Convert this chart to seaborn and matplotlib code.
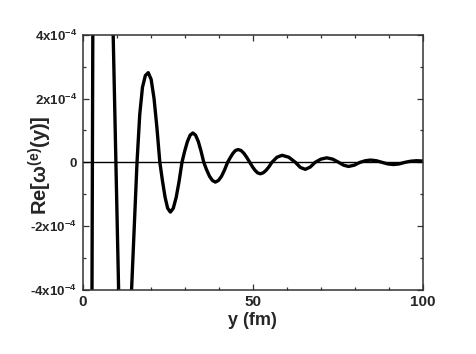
import numpy as np
import pandas as pd
import seaborn as sns
import matplotlib.pyplot as plt
from matplotlib.ticker import MultipleLocator

y_fm = [2.0, 2.6, 2.9, 3.2, 6.0, 8.2, 9.8, 11.4, 12.5, 13.6, 14.4, 15.2,
        16.0, 16.8, 17.6, 18.45, 19.3, 20.15, 21.0, 21.85, 22.7, 23.5, 24.25,
        25.0, 25.8, 26.65, 27.5, 28.35, 29.2, 30.0, 30.8, 31.6, 32.4, 33.2,
        34.0, 34.8, 35.6, 36.45, 37.3, 38.15, 39.0, 39.9, 40.8, 41.7, 42.6,
        43.4, 44.15, 44.9, 45.7, 46.55, 47.4, 48.25, 49.1, 49.9, 50.65, 51.4,
        52.2, 53.05, 53.9, 54.75, 55.6, 57.1, 58.6, 60.55, 62.5, 63.95, 65.4,
        66.85, 68.3, 70.0, 71.7, 73.45, 75.2, 76.65, 78.1, 79.8, 81.5, 83.05,
        84.6, 86.25, 87.9, 89.6, 91.3, 93.0, 94.7, 96.4, 98.1, 100.0]
re_omega = [-30.0, -10.0, 0.0, 10.0, 25.0, 8.0, 0.0, -8.0, -11.0, -6.2, -4.0, -2.0,
            0.0, 1.5, 2.35, 2.72, 2.81, 2.6, 2.0, 1.08, 0.0, -0.6, -1.1,
            -1.44, -1.56, -1.44, -1.1, -0.6, 0.0, 0.35, 0.65, 0.85, 0.92, 0.85,
            0.65, 0.35, 0.0, -0.24, -0.44, -0.57, -0.62, -0.57, -0.44, -0.24, 0.0,
            0.15, 0.28, 0.37, 0.40, 0.37, 0.28, 0.15, 0.0, -0.14, -0.25, -0.33,
            -0.36, -0.33, -0.25, -0.14, 0.0, 0.16, 0.22, 0.16, 0.0, -0.16, -0.22,
            -0.15, 0.0, 0.10, 0.14, 0.10, 0.0, -0.09, -0.13, -0.09, 0.0, 0.05,
            0.07, 0.05, 0.0, -0.05, -0.07, -0.05, 0.0, 0.035, 0.05, 0.04]
skala = 1e-4

x_ticks = [0, 50, 100]
y_ticks = [-4e-4, -2e-4, 0, 2e-4, 4e-4]
y_ticklabels = [r"-4x10$^{-4}$", r"-2x10$^{-4}$", "0", r"2x10$^{-4}$", r"4x10$^{-4}$"]

if __name__ == "__main__":
    sns.set_style("ticks")
    plt.rcParams["font.family"] = ["Liberation Sans", "DejaVu Sans"]
    plt.rcParams["font.weight"] = "bold"
    plt.rcParams["mathtext.fontset"] = "custom"
    plt.rcParams["mathtext.rm"] = "Liberation Sans:bold"
    plt.rcParams["mathtext.it"] = "Liberation Sans:bold"
    plt.rcParams["mathtext.bf"] = "Liberation Sans:bold"
    plt.rcParams["mathtext.default"] = "rm"

    df = pd.DataFrame({"y": y_fm, "re": np.array(re_omega) * skala})

    fig = plt.figure(figsize=(4.77, 3.54), dpi=100)
    ax = fig.add_axes([0.173, 0.181, 0.714, 0.721])

    ax.axhline(0, color="black", lw=1.0, zorder=1)
    sns.lineplot(data=df, x="y", y="re", ax=ax, color="black", lw=2.4,
                 estimator=None, sort=False, zorder=2)

    ax.set_xlim(0, 100)
    ax.set_ylim(-4e-4, 4e-4)
    ax.set_xticks(x_ticks)
    ax.set_xticklabels([str(t) for t in x_ticks], fontsize=11, fontweight="bold")
    ax.xaxis.set_minor_locator(MultipleLocator(10))
    ax.set_yticks(y_ticks)
    ax.set_yticklabels(y_ticklabels, fontsize=9.5, fontweight="bold")
    ax.yaxis.set_minor_locator(MultipleLocator(1e-4))
    ax.tick_params(which="both", direction="in", top=True, right=True,
                   width=0.9, color="#333333")
    ax.tick_params(which="major", length=4, pad=4)
    ax.tick_params(which="minor", length=2.5)
    for s in ax.spines.values():
        s.set_linewidth(1.1)
        s.set_color("#333333")

    ax.set_xlabel("y (fm)", fontsize=13, fontweight="bold", labelpad=2)
    ax.set_ylabel(r"Re[$\omega^{(e)}$(y)]", fontsize=14.5, fontweight="bold")
    ax.yaxis.set_label_coords(-0.085, 0.49)

    fig.savefig("out.png", dpi=100)
